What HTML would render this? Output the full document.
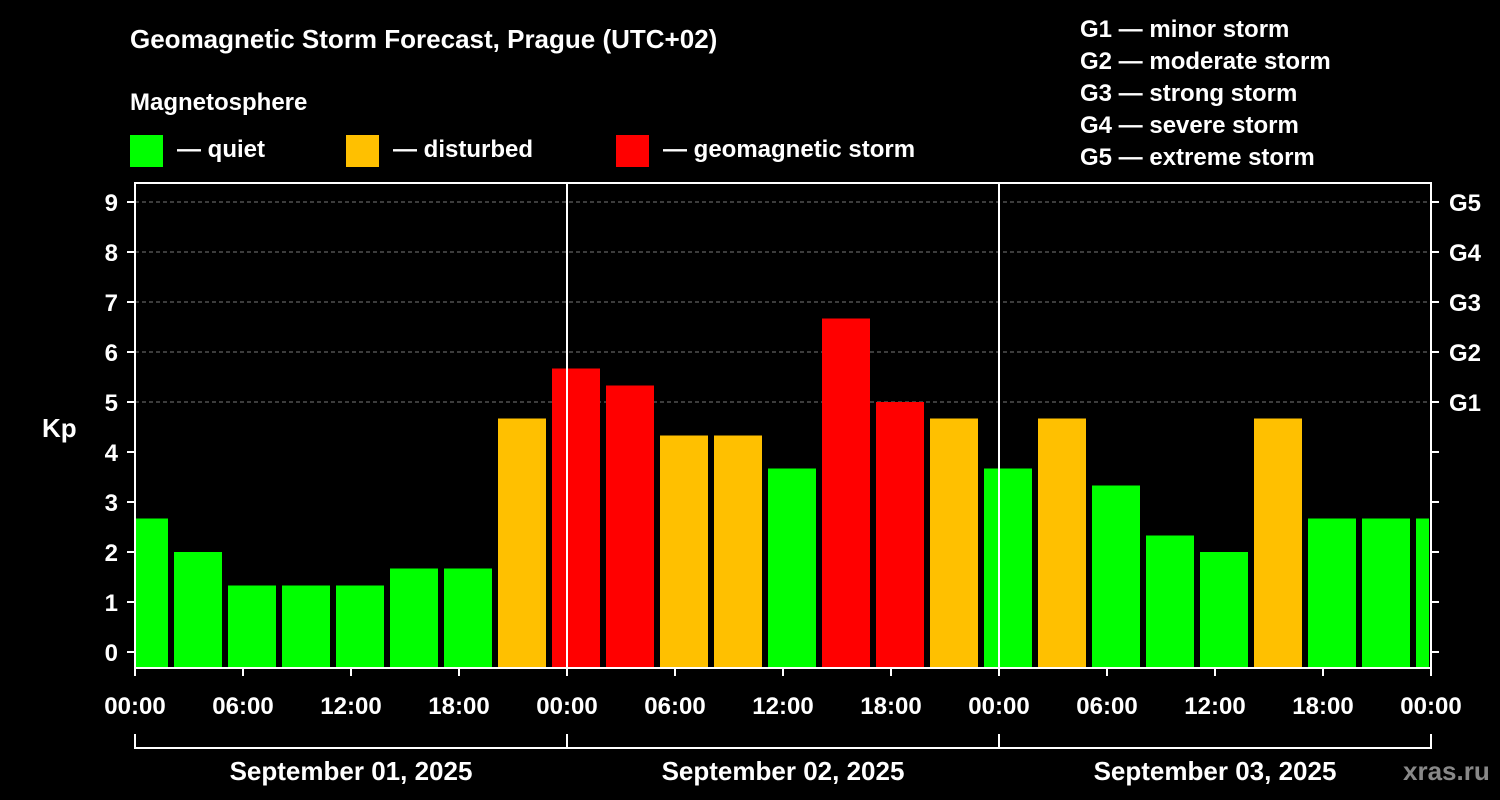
<!DOCTYPE html>
<html><head><meta charset="utf-8"><style>
body{margin:0;background:#000;}
svg{display:block;font-family:"Liberation Sans",Arial,sans-serif;font-weight:bold;}
</style></head><body>
<svg id="c" width="1500" height="800" viewBox="0 0 1500 800">
<rect width="1500" height="800" fill="#000"/>
<text x="130" y="48" fill="#fff" font-size="26">Geomagnetic Storm Forecast, Prague (UTC+02)</text>
<text x="130" y="110" fill="#fff" font-size="24">Magnetosphere</text>
<g><rect x="130" y="135" width="33" height="32" fill="#00ff00"/><text x="177" y="157" fill="#fff" font-size="24">— quiet</text></g>
<g><rect x="346" y="135" width="33" height="32" fill="#ffc000"/><text x="393" y="157" fill="#fff" font-size="24">— disturbed</text></g>
<g><rect x="616" y="135" width="33" height="32" fill="#ff0000"/><text x="663" y="157" fill="#fff" font-size="24">— geomagnetic storm</text></g>
<g fill="#fff" font-size="24">
<text x="1080" y="37">G1 — minor storm</text><text x="1080" y="69">G2 — moderate storm</text><text x="1080" y="101">G3 — strong storm</text><text x="1080" y="133">G4 — severe storm</text><text x="1080" y="165">G5 — extreme storm</text>
</g>
<text x="42" y="437" fill="#fff" font-size="26">Kp</text>
<text x="1403" y="780" fill="#888" font-size="26">xras.ru</text>
<g id="plot"></g>
</svg>
<script>
const values=[2.67,2,1.33,1.33,1.33,1.67,1.67,4.67,5.67,5.33,4.33,4.33,3.67,6.67,5,4.67,3.67,4.67,3.33,2.33,2,4.67,2.67,2.67,2.67];
const yTicks=[0,1,2,3,4,5,6,7,8,9];
const gLabels=["G1","G2","G3","G4","G5"];
const xTickLabels=["00:00","06:00","12:00","18:00","00:00","06:00","12:00","18:00","00:00","06:00","12:00","18:00","00:00"];
const dayLabels=["September 01, 2025","September 02, 2025","September 03, 2025"];
const NS="http://www.w3.org/2000/svg";
const L=135,R=1431,T=183,B=668;
const y=v=>652-50*v;
const x=h=>L+18*h;
const g=document.getElementById('plot');
function el(t,a){const e=document.createElementNS(NS,t);for(const k in a)e.setAttribute(k,a[k]);g.appendChild(e);return e;}
for(const v of [5,6,7,8,9]){const e=el('line',{x1:L,x2:R,y1:y(v),y2:y(v),stroke:'#777','stroke-dasharray':'4,3'});

}
values.forEach((v,i)=>{
 let x0=Math.max(L,x(i*3-1)+3),x1=Math.min(R-2,x(i*3+2)-3);
 const c=v>=5?'#ff0000':v>=4?'#ffc000':'#00ff00';
 const b=el('rect',{x:x0,y:y(v),width:x1-x0,height:B-y(v),fill:c});
 
 
});
for(const d of [1,2]){const e=el('line',{x1:x(24*d),x2:x(24*d),y1:T,y2:B,stroke:'#fff','stroke-width':2});

}
const fr=el('rect',{x:L,y:T,width:R-L,height:B-T,fill:'none',stroke:'#fff','stroke-width':2});


yTicks.forEach(v=>{
 el('line',{x1:L-8,x2:L,y1:y(v),y2:y(v),stroke:'#fff','stroke-width':2});
 el('line',{x1:R,x2:R+8,y1:y(v),y2:y(v),stroke:'#fff','stroke-width':2});
 const t=el('text',{x:L-17,y:y(v)+9,fill:'#fff','font-size':24,'text-anchor':'end'});t.textContent=v;
 
 
});
gLabels.forEach((s,i)=>{const t=el('text',{x:1449,y:y(5+i)+9,fill:'#fff','font-size':24});t.textContent=s;
 
 });
xTickLabels.forEach((s,i)=>{
 el('line',{x1:x(i*6),x2:x(i*6),y1:B,y2:B+8,stroke:'#fff','stroke-width':2});
 const t=el('text',{x:x(i*6),y:714,fill:'#fff','font-size':24,'text-anchor':'middle'});t.textContent=s;
 
 
});
el('line',{x1:L,x2:R,y1:748,y2:748,stroke:'#fff','stroke-width':2});
for(let d=0;d<=3;d++)el('line',{x1:x(24*d),x2:x(24*d),y1:734,y2:749,stroke:'#fff','stroke-width':2});
dayLabels.forEach((s,i)=>{const t=el('text',{x:x(24*i+12),y:780,fill:'#fff','font-size':26,'text-anchor':'middle'});t.textContent=s;
 
 });
</script>
</body></html>
